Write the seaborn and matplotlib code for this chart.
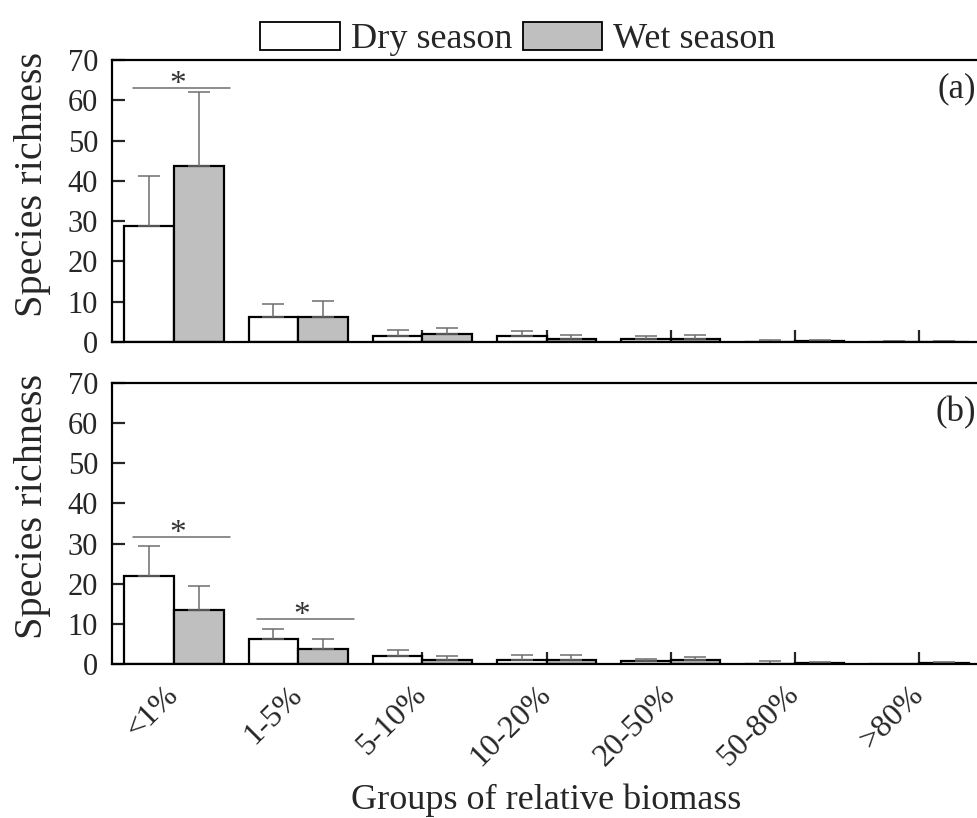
import matplotlib
matplotlib.use("Agg")
import matplotlib.pyplot as plt
import seaborn as sns
import pandas as pd
import numpy as np
from matplotlib.patches import Patch

sns.set_style("white")
plt.rcParams['font.family'] = ['Liberation Serif', 'DejaVu Serif']

categories = ["<1%", "1-5%", "5-10%", "10-20%", "20-50%", "50-80%", ">80%"]
seasons = ["Dry season", "Wet season"]

# Panel (a)
a_dry = [28.8, 6.2, 1.5, 1.5, 0.8, 0.1, 0.05]
a_dry_err = [12.5, 3.2, 1.5, 1.3, 0.7, 0.4, 0.15]
a_wet = [43.7, 6.2, 2.0, 0.8, 0.8, 0.2, 0.1]
a_wet_err = [18.4, 4.0, 1.5, 1.0, 1.0, 0.4, 0.2]

# Panel (b)
b_dry = [22.0, 6.2, 2.0, 1.0, 0.7, 0.05, 0.05]
b_dry_err = [7.5, 2.6, 1.5, 1.2, 0.6, 0.6, 0.0]
b_wet = [13.5, 3.8, 1.0, 1.0, 1.0, 0.3, 0.2]
b_wet_err = [6.0, 2.4, 1.0, 1.2, 0.8, 0.3, 0.2]

# significance marks: (category index, line height)
a_sig = [(0, 63.1)]
b_sig = [(0, 31.7), (1, 11.3)]

panel_labels = ["(a)", "(b)"]
yticks = [0, 10, 20, 30, 40, 50, 60, 70]

W, H = 977, 818
fig = plt.figure(figsize=(W / 100, H / 100), dpi=100)

def axpos(l, t, r, b):
    return [l / W, 1 - b / H, (r - l) / W, (b - t) / H]

ax1 = fig.add_axes(axpos(112, 60, 981, 342))
ax2 = fig.add_axes(axpos(112, 383, 981, 664))

palette = {"Dry season": "white", "Wet season": "#bfbfbf"}

def draw(ax, dry, dry_err, wet, wet_err, sig, label, show_x):
    df = pd.DataFrame({
        "group": categories * 2,
        "season": [seasons[0]] * len(categories) + [seasons[1]] * len(categories),
        "value": list(dry) + list(wet),
        "err": list(dry_err) + list(wet_err),
    })
    sns.barplot(data=df, x="group", y="value", hue="season", order=categories,
                hue_order=seasons, palette=palette, edgecolor="black",
                linewidth=1.6, width=0.8, errorbar=None, ax=ax, legend=False,
                saturation=1)
    bars = sorted(ax.patches, key=lambda p: p.get_x())
    xs = [p.get_x() + p.get_width() / 2 for p in bars]
    hs = [p.get_height() for p in bars]
    errs = []
    for i in range(len(categories)):
        errs.append(dry_err[i])
        errs.append(wet_err[i])
    ax.errorbar(xs, hs, yerr=[np.zeros(len(errs)), errs], fmt="none",
                ecolor="#6e6e6e", elinewidth=1.1, capsize=8, capthick=1.1,
                zorder=1)
    for ci, yv in sig:
        ax.plot([ci - 0.33, ci + 0.45], [yv, yv], color="#6e6e6e", lw=1.1,
                zorder=4)
        ax.text(ci + 0.03, yv - 1.3, "*", ha="center", va="baseline",
                fontsize=24, color="#333333")
    ax.set_xlim(-0.5, 6.5)
    ax.set_ylim(0, 70)
    ax.set_yticks(yticks)
    ax.set_ylabel("Species richness", fontsize=29)
    ax.yaxis.set_label_coords(-0.07, 0.56)
    ax.set_xlabel("")
    ax.text(0.994, 0.955, label, transform=ax.transAxes, ha="right", va="top",
            fontsize=25)
    for s in ax.spines.values():
        s.set_linewidth(1.6)
        s.set_color("black")
        s.set_zorder(5)
    ax.tick_params(axis="y", direction="in", length=9, width=1.6,
                   labelsize=22, left=True, right=False, pad=10)
    ax.tick_params(axis="x", direction="in", length=9, width=1.6,
                   bottom=True, top=False)
    if show_x:
        ax.set_xticks(range(len(categories)))
        ax.set_xticklabels(categories, rotation=45, ha="right", va="center",
                           rotation_mode="anchor", fontsize=23)
        ax.tick_params(axis="x", pad=19)
        ax.set_xlabel("Groups of relative biomass", fontsize=26)
        ax.xaxis.set_label_coords(0.5, -0.425)
    else:
        ax.set_xticklabels([])

draw(ax1, a_dry, a_dry_err, a_wet, a_wet_err, a_sig, panel_labels[0], False)
draw(ax2, b_dry, b_dry_err, b_wet, b_wet_err, b_sig, panel_labels[1], True)

handles = [Patch(facecolor=palette[s], edgecolor="black", linewidth=1.3)
           for s in seasons]
fig.legend(handles, seasons, loc="center", bbox_to_anchor=(518 / W, 1 - 39 / H),
           ncol=2, frameon=False, fontsize=26, handlelength=2.2,
           handleheight=0.85, handletextpad=0.3, columnspacing=0.3,
           borderaxespad=0, borderpad=0)

fig.savefig("out.png", dpi=100)
